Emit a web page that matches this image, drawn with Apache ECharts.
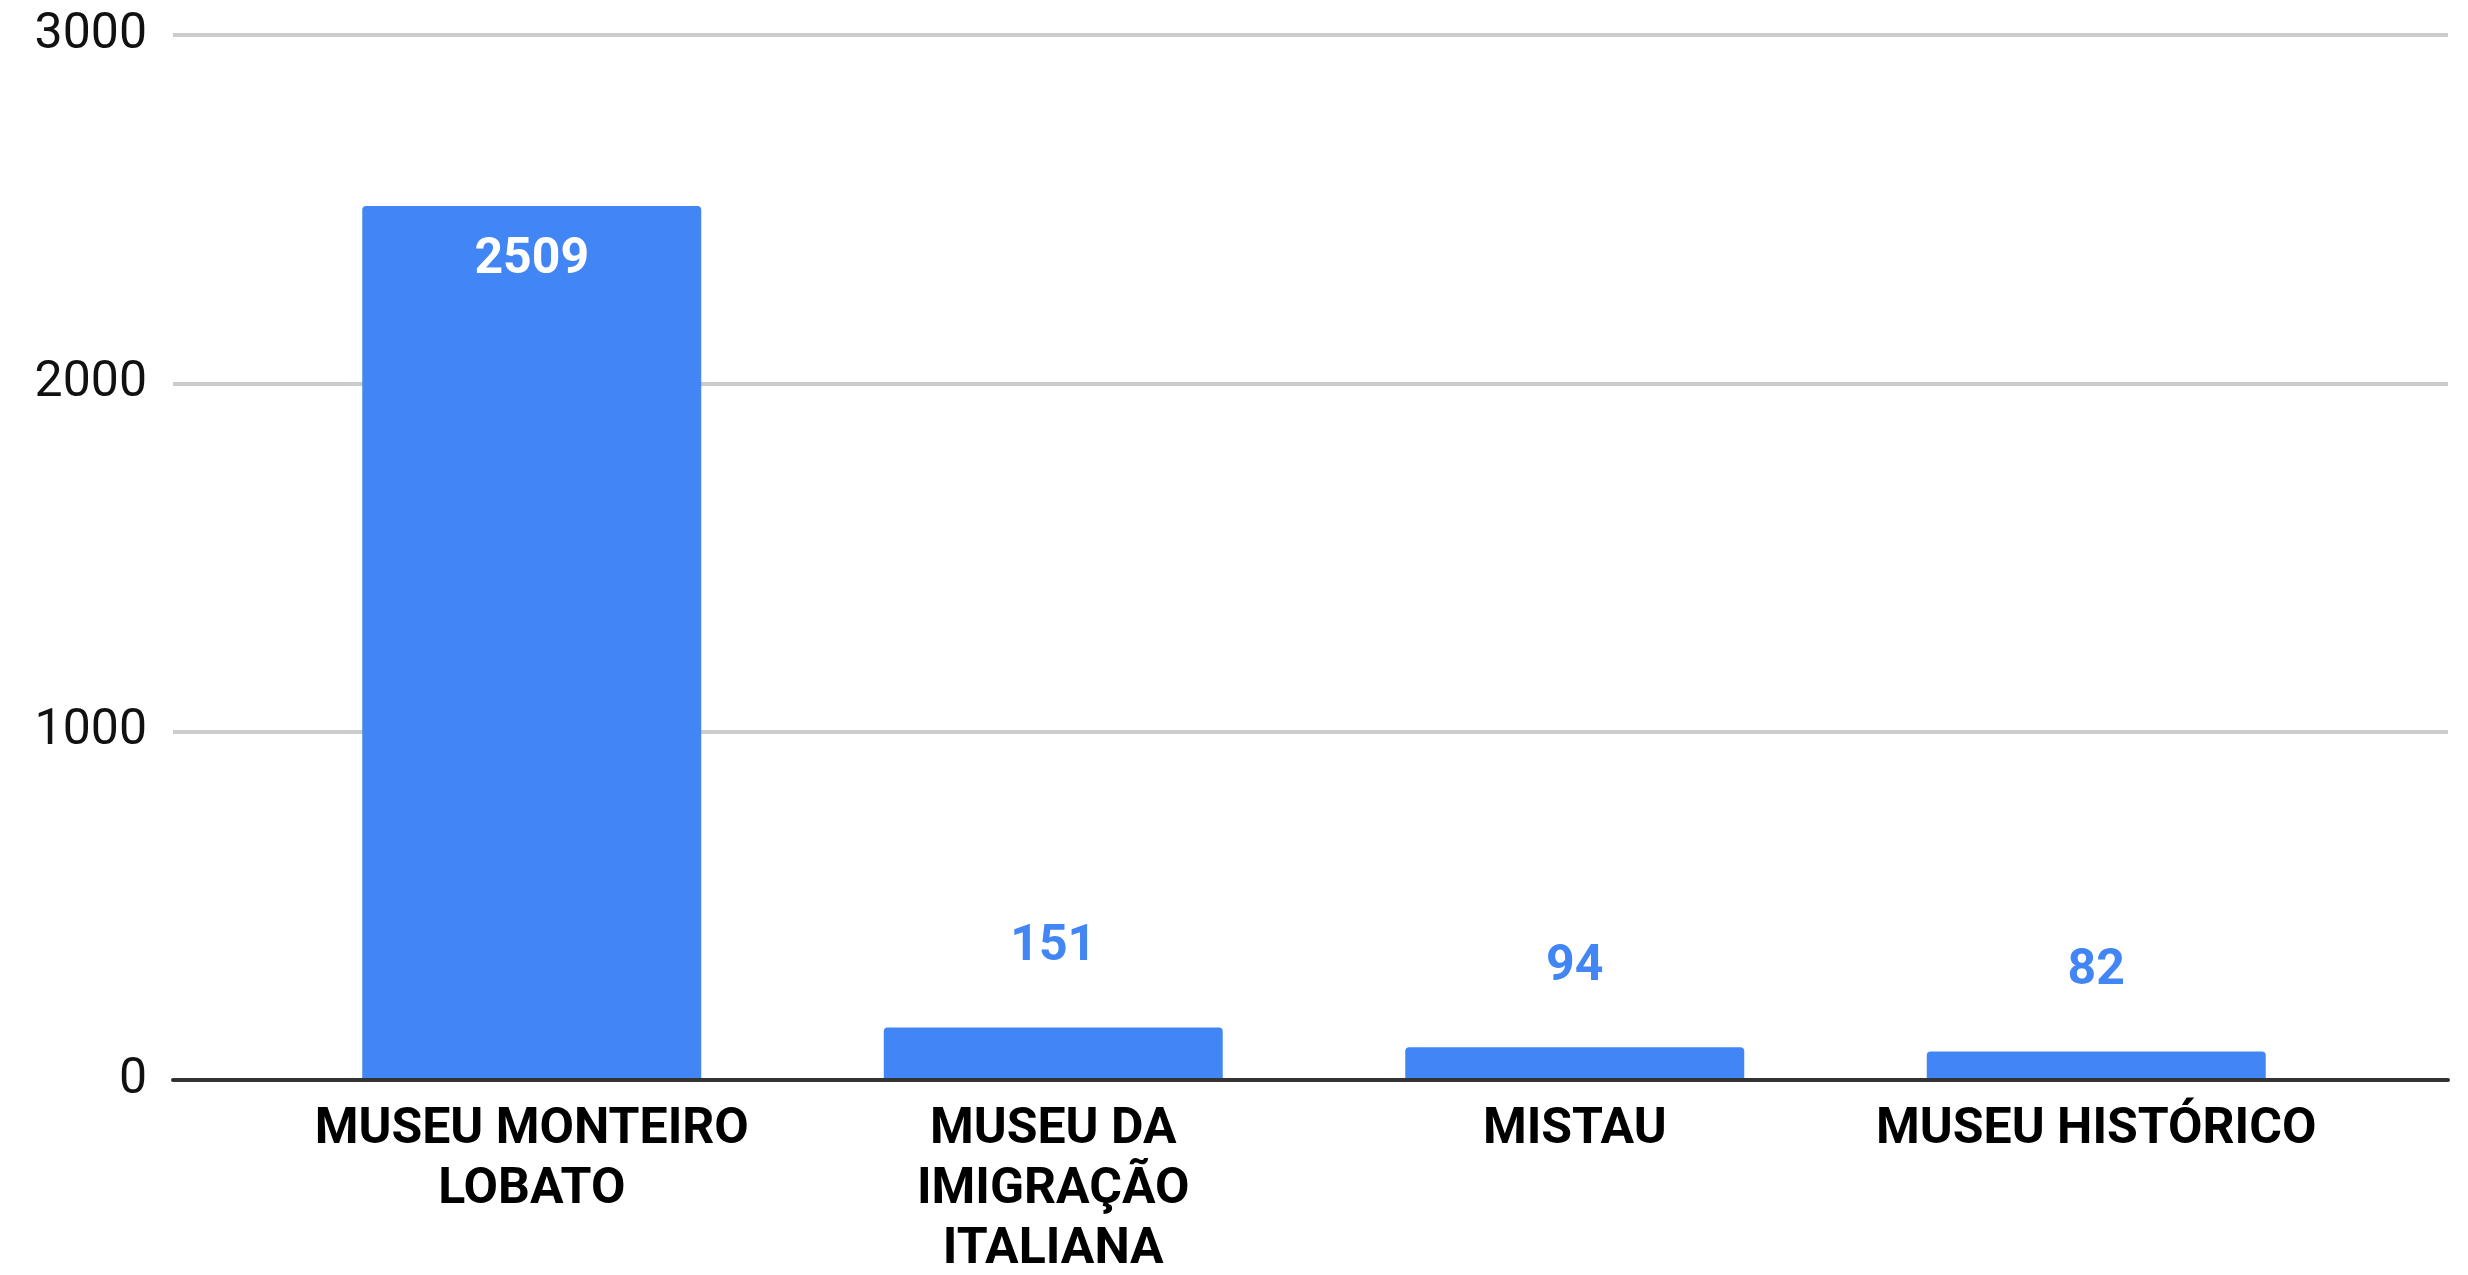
<!DOCTYPE html>
<html>
<head>
<meta charset="utf-8">
<script src="https://cdn.jsdelivr.net/npm/echarts@6/dist/echarts.min.js"></script>
<style>
  html, body { margin: 0; padding: 0; background: #fff; }
  #chart { width: 2468px; height: 1275px; }
</style>
</head>
<body>
<div id="chart"></div>
<script>
// 数据
const categories = ["MUSEU MONTEIRO\nLOBATO", "MUSEU DA\nIMIGRAÇÃO\nITALIANA", "MISTAU", "MUSEU HISTÓRICO"];
const visitors = [2509, 151, 94, 82];
const yTicks = [0, 1000, 2000, 3000];

const blue = "#4285f4";

const myChart = echarts.init(document.getElementById("chart"));

const option = {
  animation: false,
  textStyle: { fontFamily: "Roboto" },
  grid: [
    // grid 0: gridlines + baseline (wider)
    { left: 173, right: 20, top: 35, bottom: 195, outerBoundsMode: "none" },
    // grid 1: bars
    { left: 271, right: 111, top: 35, bottom: 195, outerBoundsMode: "none" },
  ],
  xAxis: [
    {
      gridIndex: 0,
      type: "category",
      data: categories,
      axisLine: { show: true, lineStyle: { color: "#333333", width: 4 } },
      axisTick: { show: false },
      axisLabel: { show: false },
      z: 5,
    },
    {
      gridIndex: 1,
      type: "category",
      data: categories,
      axisLine: { show: false },
      axisTick: { show: false },
      axisLabel: {
        color: "#000",
        fontFamily: "Roboto",
        fontWeight: "bold",
        fontSize: 50,
        lineHeight: 60,
        margin: 20,
        interval: 0,
      },
    },
  ],
  yAxis: [
    {
      gridIndex: 0,
      type: "value",
      min: yTicks[0],
      max: yTicks[yTicks.length - 1],
      interval: 1000,
      axisLine: { show: false },
      axisTick: { show: false },
      axisLabel: {
        color: "#111",
        fontFamily: "Roboto",
        fontSize: 50,
        margin: 26,
        formatter: (v) => String(v), // 不要千分位逗号
      },
      splitLine: { lineStyle: { color: "#cccccc", width: 4 } },
    },
    {
      gridIndex: 1,
      type: "value",
      min: yTicks[0],
      max: yTicks[yTicks.length - 1],
      interval: 1000,
      show: false,
      splitLine: { show: false },
    },
  ],
  series: [
    {
      type: "bar",
      xAxisIndex: 1,
      yAxisIndex: 1,
      barWidth: "65%",
      z: 3,
      itemStyle: { color: blue, borderRadius: [4, 4, 0, 0] },
      data: visitors.map((v, i) => {
        // 第一个柱子标签在柱内
        if (i === 0) {
          return {
            value: v,
            label: { position: "insideTop", distance: 29, color: "#fff" },
          };
        }
        return v;
      }),
      label: {
        show: true,
        position: "top",
        distance: 55,
        color: blue,
        fontFamily: "Roboto",
        fontWeight: "bold",
        fontSize: 50,
      },
    },
  ],
};

myChart.setOption(option);
</script>
</body>
</html>
